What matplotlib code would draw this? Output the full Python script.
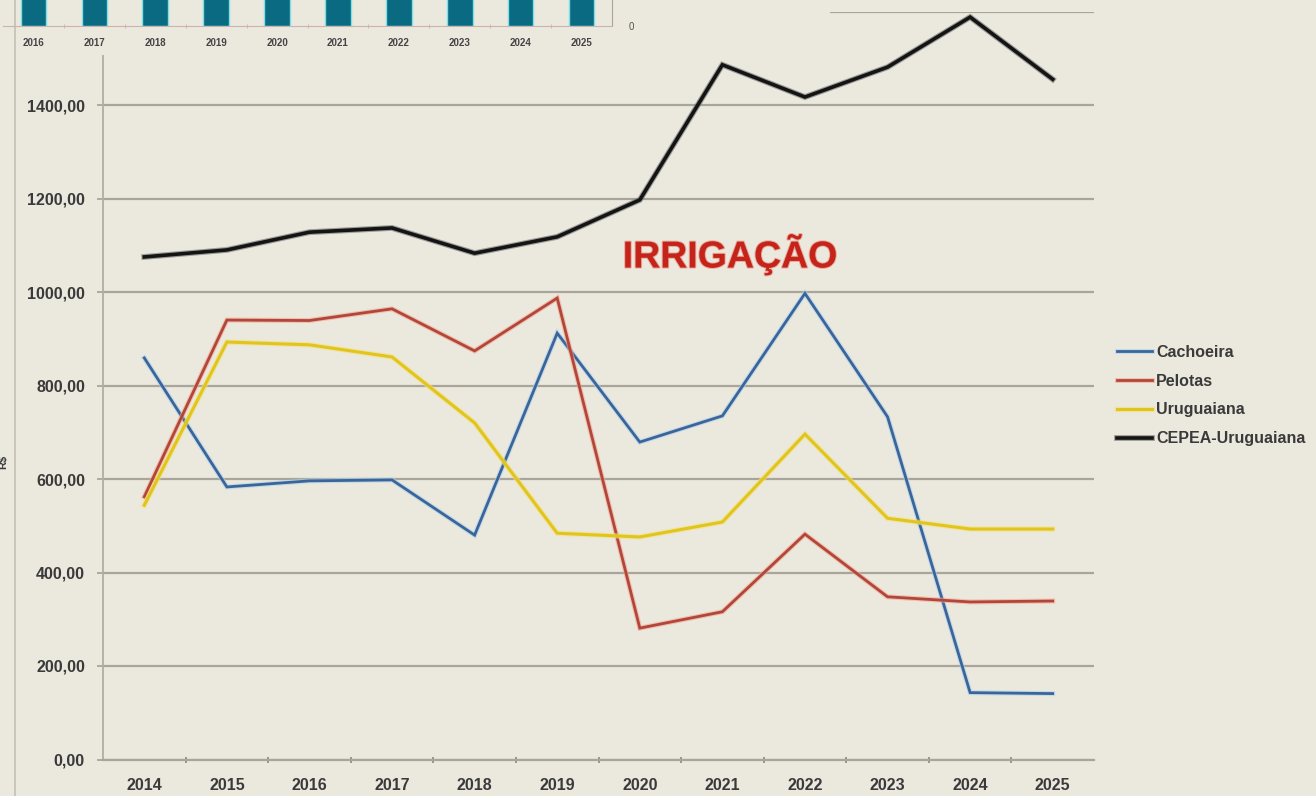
import matplotlib
matplotlib.use('Agg')
import matplotlib.pyplot as plt
from matplotlib.patches import Rectangle
import matplotlib.patheffects as pe

# ---------------- data ----------------
years = ['2014', '2015', '2016', '2017', '2018', '2019', '2020', '2021', '2022', '2023', '2024', '2025']
cachoeira = [859, 583, 596, 598, 480, 912, 679, 735, 997, 733, 143, 141]
pelotas = [562, 940, 939, 964, 874, 987, 281, 316, 482, 348, 337, 339]
uruguaiana = [544, 893, 887, 861, 720, 484, 476, 508, 696, 516, 493, 493]
cepea_uruguaiana = [1075, 1090, 1128, 1137, 1083, 1118, 1197, 1486, 1417, 1481, 1588, 1455]
series_names = ['Cachoeira', 'Pelotas', 'Uruguaiana', 'CEPEA-Uruguaiana']
yticks = [0, 200, 400, 600, 800, 1000, 1200, 1400, 1600]

# partially visible overlapping chart at the top (bars run off the top of the image)
top_bar_years = ['2016', '2017', '2018', '2019', '2020', '2021', '2022', '2023', '2024', '2025']
top_bar_values = [50, 50, 50, 50, 50, 50, 50, 50, 50, 50]

# ---------------- style ----------------
W, H = 1316, 796
bg = '#ebe8de'
grid_c = '#a9a59b'
txt_c = '#3a3a3a'
FONT = ['Liberation Sans Narrow', 'Liberation Sans', 'DejaVu Sans']
plt.rcParams['font.family'] = FONT

fig = plt.figure(figsize=(W / 100, H / 100), dpi=100, facecolor=bg)

def px_rect(x0, y0, x1, y1):
    return [x0 / W, (H - y1) / H, (x1 - x0) / W, (y1 - y0) / H]

ax = fig.add_axes(px_rect(103, 11.5, 1094, 759.5))
ax.set_facecolor(bg)
x = list(range(len(years)))

styles = [
    (cachoeira, '#3b659a', '#a9d2ee', 2.0),
    (pelotas, '#b2463a', '#f2a68e', 2.0),
    (uruguaiana, '#e2c51c', '#f3e27a', 2.2),
    (cepea_uruguaiana, '#141414', '#6a6a6a', 2.6),
]
handles = []
for (vals, col, halo, lw), name in zip(styles, series_names):
    ln, = ax.plot(x, vals, color=col, lw=lw, label=name, zorder=3,
                  solid_joinstyle='miter', clip_on=False)
    ln.set_path_effects([pe.Stroke(linewidth=lw + 1.6, foreground=halo, alpha=0.6), pe.Normal()])
    handles.append(ln)

ax.set_xlim(-0.5, len(years) - 0.5)
ax.set_ylim(0, 1600)
ax.set_yticks(yticks)
ax.set_yticklabels([f'{v:.2f}'.replace('.', ',') for v in yticks])
ax.set_xticks(x)
ax.set_xticklabels(years)
ax.set_xticks([i + 0.5 for i in x[:-1]], minor=True)
ax.grid(axis='y', color=grid_c, lw=1.6, zorder=1)
ax.set_axisbelow(True)
for s in ['top', 'right']:
    ax.spines[s].set_visible(False)
ax.spines['left'].set_color('#b0ada4')
ax.spines['left'].set_linewidth(1.3)
ax.spines['bottom'].set_color(grid_c)
ax.spines['bottom'].set_linewidth(1.6)
ax.tick_params(axis='y', length=4, color=grid_c, width=1.3, pad=9, labelsize=11.5, labelcolor=txt_c)
ax.tick_params(axis='x', which='major', length=0, pad=13, labelsize=11.5, labelcolor=txt_c)
ax.tick_params(axis='x', which='minor', length=4, direction='inout', color='#8a867e', width=1.2)
for lab in ax.get_xticklabels() + ax.get_yticklabels():
    lab.set_fontweight('bold')

fig.text(730 / W, 1 - 254 / H, 'IRRIGAÇÃO', ha='center', va='center', fontsize=27,
         fontweight='bold', color='#c4241a', family=['Liberation Sans', 'DejaVu Sans'],
         path_effects=[pe.Stroke(linewidth=1.5, foreground='#e88070', alpha=0.6), pe.Normal()])

leg = fig.legend(handles=handles, labels=series_names, loc='upper left',
                 bbox_to_anchor=(1117 / W, 1 - 345 / H), frameon=False,
                 fontsize=11.5, handlelength=2.2, handletextpad=0.25, labelspacing=0.86,
                 borderpad=0, borderaxespad=0)
for t in leg.get_texts():
    t.set_fontweight('bold')
    t.set_color(txt_c)

# left frame line of the slide and cut-off axis title
fig.add_artist(plt.Line2D([15 / W, 15 / W], [0, 1], color='#c4c0b6', lw=1.2))
fig.text(3 / W, 1 - 462 / H, 'R$', rotation=90, fontsize=8, color=txt_c, ha='center', va='center',
         fontweight='bold')

# overlapping chart panel at top-left
fig.patches.append(Rectangle((0, 1 - 55 / H), 830 / W, 55 / H, transform=fig.transFigure,
                             facecolor=bg, edgecolor='none', zorder=1))
bax = fig.add_axes(px_rect(3, 0, 612, 26))
bax.set_zorder(3)
bax.set_facecolor('none')
bx = list(range(len(top_bar_years)))
bax.bar(bx, top_bar_values, width=0.42, color='#0a6a82', edgecolor='#7fe0e8', linewidth=1.0)
bax.set_xlim(-0.5, len(top_bar_years) - 0.5)
bax.set_ylim(0, 10)
bax.set_xticks(bx)
bax.set_xticklabels(top_bar_years)
bax.set_xticks([i + 0.5 for i in bx[:-1]], minor=True)
bax.tick_params(axis='x', which='major', length=0, pad=9, labelsize=7, labelcolor='#444444')
bax.tick_params(axis='x', which='minor', length=3, direction='inout', color='#e0a8a8')
for lab in bax.get_xticklabels():
    lab.set_fontweight('bold')
bax.set_yticks([0])
bax.yaxis.tick_right()
bax.tick_params(axis='y', length=0, pad=12, labelsize=7, labelcolor='#555555')
for s in ['top', 'left']:
    bax.spines[s].set_visible(False)
bax.spines['bottom'].set_color('#c8b4b0')
bax.spines['right'].set_color('#a9a59b')

fig.savefig('out.png', dpi=100, facecolor=bg)
